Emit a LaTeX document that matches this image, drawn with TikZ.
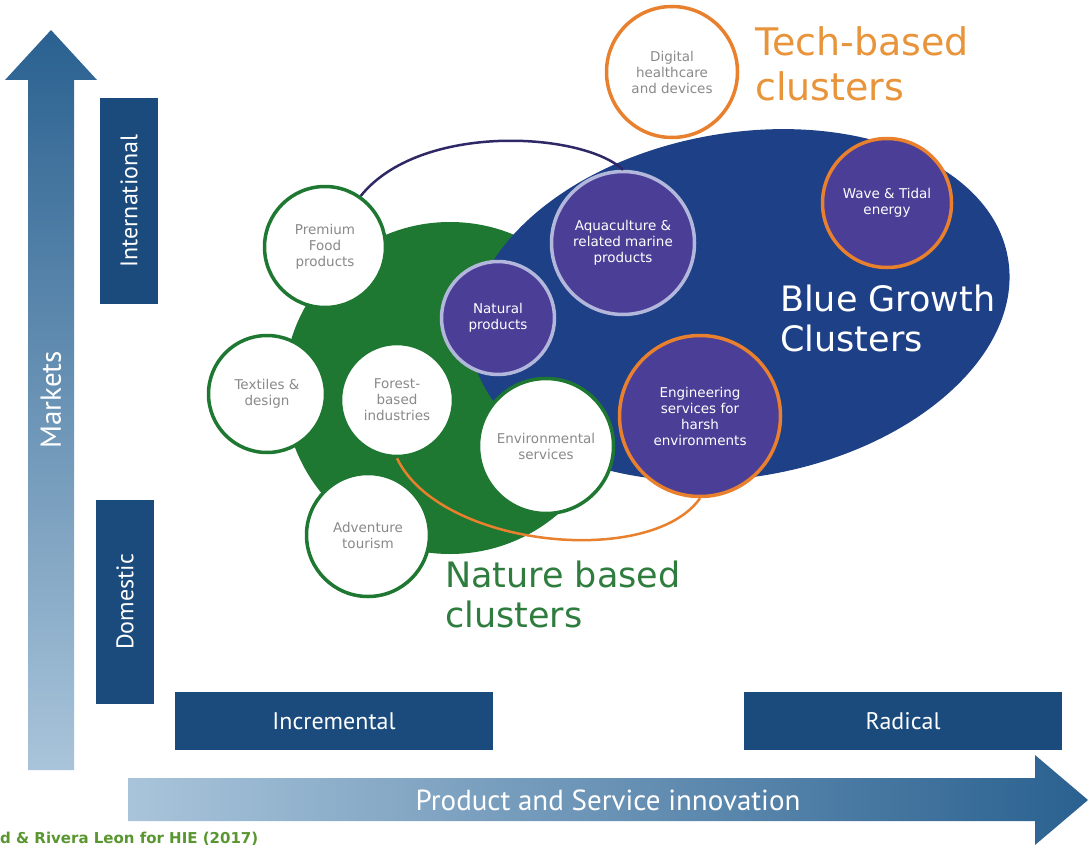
\documentclass[tikz,border=0pt]{standalone}
\usepackage{fontspec}
\setmainfont{DejaVu Sans}
\newfontfamily\axisfont{PT Sans}

\definecolor{axisdark}{HTML}{2A6190}
\definecolor{axislight}{HTML}{A9C4DA}
\definecolor{navybox}{HTML}{1B4B7D}
\definecolor{bluegrowth}{HTML}{1D4086}
\definecolor{marinepurple}{HTML}{4B3E96}
\definecolor{lavender}{HTML}{B4B7DC}
\definecolor{naturegreen}{HTML}{1E7832}
\definecolor{naturetext}{HTML}{2E7D3E}
\definecolor{techorange}{HTML}{E8802E}
\definecolor{techtext}{HTML}{E8943A}
\definecolor{labelgray}{HTML}{8A8A8A}
\definecolor{arcpurple}{HTML}{2E2867}
\definecolor{sourcegreen}{HTML}{5A9630}

\newcommand\circfont{\fontsize{13.5}{16}\selectfont}

\tikzset{
  nature/.style={circle, draw=naturegreen, line width=3.5pt, fill=white, inner sep=0pt, align=center, text=labelgray, font=\circfont},
  marine/.style={circle, draw=lavender, line width=3.5pt, fill=marinepurple, inner sep=0pt, align=center, text=white, font=\circfont},
  tech/.style={nature, draw=techorange},
  levelbox/.style={fill=navybox, text=white, inner sep=0pt, font=\axisfont\fontsize{24}{26}\selectfont},
  axislabel/.style={text=white, inner sep=0pt, font=\axisfont\fontsize{29}{32}\selectfont},
  grouplabel/.style={anchor=north west, inner sep=0pt, align=left}
}

\begin{document}
\begin{tikzpicture}[x=1pt,y=-1pt]
\useasboundingbox (0,0) rectangle (1091,848);
\clip (0,0) rectangle (1091,848);

% axes
\shade [top color=axisdark, bottom color=axislight] (28,770) -- (28,80) -- (5,80) -- (51,30) -- (97,80) -- (74,80) -- (74,770) -- cycle;
\shade [left color=axislight, right color=axisdark] (128,778) -- (1035,778) -- (1035,755) -- (1088,800) -- (1035,845) -- (1035,821) -- (128,821) -- cycle;
\node [axislabel, rotate=90] (markets) at (51,400) {Markets};
\node [axislabel] (innov) at (608,800) {Product and Service innovation};
\node [levelbox, rotate=90, minimum width=205, minimum height=58] (intl) at (129,201) {International};
\node [levelbox, rotate=90, minimum width=204, minimum height=58] (domestic) at (125,602) {Domestic};
\node [levelbox, minimum width=318, minimum height=58] (incr) at (334,721) {Incremental};
\node [levelbox, minimum width=318, minimum height=58] (radical) at (903,721) {Radical};

% cluster areas
\fill [naturegreen] (450,388) circle [radius=166];
\fill [bluegrowth, rotate around={10:(740,305)}] (740,305) ellipse [x radius=272, y radius=172];

% clusters
\node [nature, minimum size=121] (prem) at (325,247) {Premium\\Food\\products};
\node [nature, minimum size=117] (textiles) at (267,394) {Textiles \&\\design};
\node [nature, minimum size=113] (forest) at (397,400) {Forest-\\based\\industries};
\node [nature, minimum size=123] (adventure) at (368,535) {Adventure\\tourism};
\node [nature, minimum size=135] (envserv) at (546,446) {Environmental\\services};
\node [marine, minimum size=113] (natural) at (498,318) {Natural\\products};
\node [marine, minimum size=143] (aqua) at (623,243) {Aquaculture \&\\related marine\\products};
\node [marine, draw=techorange, minimum size=161] (eng) at (700,416) {Engineering\\services for\\harsh\\environments};
\node [tech, minimum size=131] (digital) at (672,72) {Digital\\healthcare\\and devices};
\node [marine, draw=techorange, minimum size=129] (wave) at (887,203) {Wave \& Tidal\\energy};

% links
\draw [arcpurple, line width=2.5pt] (prem.55) .. controls (420,122) and (583,132) .. (aqua.north);
\draw [techorange, line width=2.5pt] (forest.south) .. controls (440,548) and (651,568) .. (eng.south);

% group names
\node [grouplabel, text=techtext, font=\fontsize{38}{45}\selectfont] (techlbl) at (755,26) {Tech-based\\clusters};
\node [grouplabel, text=white, font=\fontsize{35}{40}\selectfont] (bluelbl) at (780,285) {Blue Growth\\Clusters};
\node [grouplabel, text=naturetext, font=\fontsize{35}{40}\selectfont] (naturelbl) at (445,561) {Nature based\\clusters};

\node [anchor=base west, inner sep=0pt, text=sourcegreen, font=\bfseries\fontsize{15}{18}\selectfont] (source) at (0,843) {d \& Rivera Leon for HIE (2017)};
\end{tikzpicture}
\end{document}
